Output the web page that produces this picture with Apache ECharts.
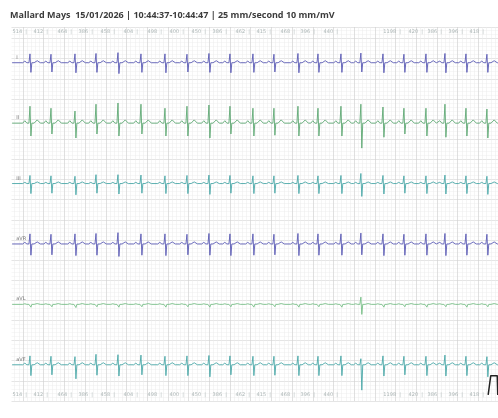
<!DOCTYPE html>
<html><head><meta charset="utf-8">
<script src="https://cdn.jsdelivr.net/npm/echarts@6/dist/echarts.min.js"></script>
<style>html,body{margin:0;padding:0;background:#fff}#c{width:498px;height:418px}</style>
</head><body><div id="c"></div>
<script>
// ---- data ----
const titleText = 'Mallard Mays  15/01/2026 | 10:44:37-10:44:47 | 25 mm/second 10 mm/mV';
const leadNames = ['I', 'II', 'III', 'aVR', 'aVL', 'aVF'];
// beat (R peak) times in seconds
const beatTimes = [0.535, 0.941, 1.405, 1.811, 2.236, 2.680, 3.144, 3.569, 3.994, 4.400, 4.844,
  5.250, 5.714, 6.101, 6.545, 6.930, 7.357, 7.762, 8.188, 8.555, 8.961, 9.366];
// RR interval labels (ms) and the beat each one is attached to
const rrLabels = [514, 412, 464, 386, 458, 404, 498, 400, 450, 386, 462, 415, 468, 396, 440, 1198, 420, 386, 396, 418];
const rrBeatIndex = [0, 1, 2, 3, 4, 5, 6, 7, 8, 9, 10, 11, 12, 13, 14, 17, 18, 19, 20, 21];
// per-beat R (up) and S (down) amplitudes in mV
const rI   = [0.22,0.21,0.22,0.23,0.25,0.22,0.22,0.21,0.23,0.22,0.22,0.21,0.23,0.22,0.22,0.24,0.22,0.21,0.22,0.23,0.22,0.21];
const sI   = [0.24,0.23,0.25,0.24,0.27,0.24,0.25,0.23,0.24,0.25,0.24,0.23,0.25,0.24,0.24,0.23,0.25,0.24,0.24,0.25,0.24,0.24];
const rII  = [0.42,0.37,0.30,0.47,0.50,0.47,0.37,0.42,0.45,0.42,0.37,0.37,0.42,0.37,0.42,0.47,0.40,0.37,0.37,0.47,0.37,0.35];
const sII  = [0.32,0.27,0.37,0.27,0.32,0.27,0.32,0.32,0.37,0.27,0.32,0.30,0.32,0.32,0.32,0.62,0.35,0.27,0.32,0.35,0.32,0.37];
const rIII = [0.20,0.19,0.18,0.22,0.22,0.21,0.19,0.20,0.21,0.20,0.19,0.19,0.20,0.19,0.20,0.25,0.20,0.19,0.19,0.21,0.19,0.18];
const sIII = [0.25,0.24,0.28,0.24,0.26,0.24,0.25,0.25,0.27,0.24,0.25,0.24,0.25,0.25,0.25,0.32,0.26,0.24,0.25,0.26,0.25,0.27];
const rAVR = [0.25,0.24,0.25,0.26,0.28,0.25,0.25,0.24,0.26,0.25,0.25,0.24,0.26,0.25,0.25,0.27,0.25,0.24,0.25,0.26,0.25,0.24];
const sAVR = [0.28,0.27,0.29,0.28,0.31,0.28,0.29,0.27,0.28,0.29,0.28,0.27,0.29,0.28,0.28,0.27,0.29,0.28,0.28,0.29,0.28,0.28];
const rAVL = [0.03,0.03,0.04,0.03,0.03,0.03,0.03,0.03,0.03,0.03,0.03,0.03,0.03,0.03,0.03,0.18,0.03,0.03,0.03,0.03,0.03,0.03];
const sAVL = [0.07,0.06,0.08,0.06,0.07,0.06,0.07,0.06,0.07,0.06,0.07,0.06,0.07,0.06,0.07,0.25,0.07,0.06,0.07,0.06,0.07,0.06];
const rAVF = [0.22,0.21,0.20,0.26,0.25,0.24,0.21,0.22,0.23,0.22,0.21,0.21,0.22,0.21,0.22,0.15,0.22,0.21,0.21,0.24,0.21,0.20];
const sAVF = [0.27,0.25,0.35,0.26,0.28,0.25,0.27,0.27,0.30,0.25,0.27,0.26,0.27,0.27,0.27,0.63,0.28,0.25,0.27,0.28,0.27,0.30];
const pAmp = [0.04, 0.06, 0.03, 0.04, 0.015, 0.04];
const tAmp = [0.05, 0.08, 0.04, 0.05, 0.02, 0.05];
// calibration pulse (time s, mV)
const calPulse = [[9.39, 0.15], [9.44, 0.63], [9.565, 0.63], [9.575, 0.15]];

// ---- layout ----
const xMax = 9.58, yMax = 9.287, traceStart = 0.19;
const baselines = [8.4, 6.9, 5.4, 3.9, 2.4, 0.9];
const colors = ['#5a5ab4', '#5ea873', '#4ba8a8', '#5a5ab4', '#78bf88', '#4ba8a8'];
const rrTopY = 9.16, rrBotY = 0.15, leadLabelT = 0.27;

const R = [rI, rII, rIII, rAVR, rAVL, rAVF];
const S = [sI, sII, sIII, sAVR, sAVL, sAVF];

function leadPoints(k) {
  const base = baselines[k], p = pAmp[k], t = tAmp[k];
  const pts = [[traceStart, base]];
  beatTimes.forEach((b, i) => {
    pts.push([b - 0.14, base], [b - 0.10, base + p], [b - 0.06, base], [b - 0.02, base],
      [b, base + R[k][i]], [b + 0.018, base - S[k][i]], [b + 0.036, base],
      [b + 0.08, base], [b + 0.14, base + t], [b + 0.20, base]);
  });
  pts.push([xMax, base]);
  return pts.filter(q => q[0] >= traceStart && q[0] <= xMax);
}

const series = leadNames.map((n, k) => ({
  type: 'line', name: n, data: leadPoints(k), showSymbol: false, symbol: 'none',
  lineStyle: { color: colors[k], width: 0.9 }, animation: false, silent: true, z: 3
}));

series.push({
  type: 'line', data: calPulse, showSymbol: false, symbol: 'none',
  lineStyle: { color: '#222', width: 1.5 }, animation: false, silent: true, z: 4
});

const rrStyle = {
  show: true, position: 'left', distance: 3, fontSize: 5, color: '#9aa6a6',
  fontFamily: 'DejaVu Sans', formatter: p => p.value[2] + '  |'
};
[rrTopY, rrBotY].forEach(y => series.push({
  type: 'scatter', symbolSize: 0, silent: true, animation: false, z: 5,
  data: rrLabels.map((v, i) => [beatTimes[rrBeatIndex[i]], y, v]),
  label: rrStyle
}));

series.push({
  type: 'scatter', symbolSize: 0, silent: true, animation: false, z: 5,
  data: leadNames.map((n, k) => [leadLabelT, baselines[k] + 0.13, n]),
  label: { show: true, position: 'right', distance: 0, fontSize: 5, color: '#555',
    fontFamily: 'DejaVu Sans', formatter: p => p.value[2] }
});

const chart = echarts.init(document.getElementById('c'), null, { renderer: 'canvas' });
chart.setOption({
  animation: false,
  backgroundColor: '#fff',
  title: {
    text: titleText, left: 10, top: 11, padding: 0,
    textStyle: { fontSize: 9, fontWeight: 'bold', color: '#3c3c3c', fontFamily: 'Open Sans' }
  },
  grid: { left: 2.3, right: 0, top: 27, bottom: 17 },
  xAxis: {
    type: 'value', min: 0, max: xMax, interval: 0.4,
    axisLine: { show: false }, axisTick: { show: false }, axisLabel: { show: false },
    splitLine: { show: true, lineStyle: { color: '#d2d2d2', width: 0.7 } },
    minorTick: { show: false, splitNumber: 5 },
    minorSplitLine: { show: true, lineStyle: { color: '#ebebeb', width: 0.5 } }
  },
  yAxis: {
    type: 'value', min: 0, max: yMax, interval: 0.5,
    axisLine: { show: false }, axisTick: { show: false }, axisLabel: { show: false },
    splitLine: { show: true, lineStyle: { color: '#dadada', width: 0.7 } },
    minorTick: { show: false, splitNumber: 5 },
    minorSplitLine: { show: true, lineStyle: { color: '#eeeeee', width: 0.5 } }
  },
  graphic: [{ type: 'rect', shape: { x: 0, y: 26, width: 11.5, height: 376 }, style: { fill: '#fff' }, z: 2 }],
  series
});
</script></body></html>
